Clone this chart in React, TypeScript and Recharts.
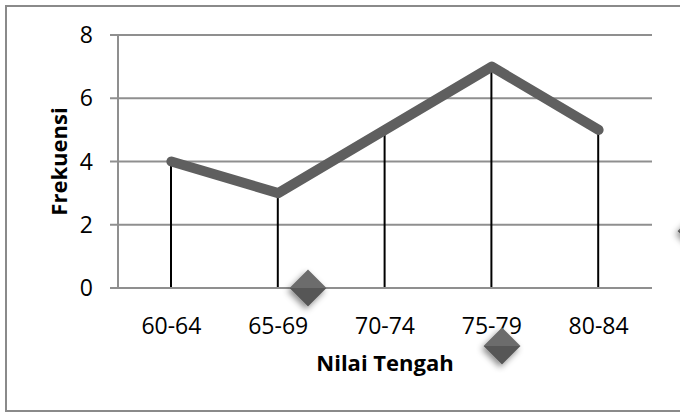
import React from 'react';
import { ComposedChart, Line, Bar, XAxis, YAxis, CartesianGrid } from 'recharts';

const categories = ['60-64', '65-69', '70-74', '75-79', '80-84'];
const frekuensi = [4, 3, 5, 7, 5];
const yTicks = [0, 2, 4, 6, 8];

const data = categories.map((nilai, i) => ({ nilai, frekuensi: frekuensi[i] }));

const FONT = '"Open Sans", "DejaVu Sans", sans-serif';
const GRID = '#8f8f8f';

// stray diamond shapes that sit on top of the picture (not data)
const Diamond: React.FC<{ cx: number; cy: number }> = ({ cx, cy }) => {
  const r = 18.5;
  return (
    <g filter="url(#dshadow)">
      <polygon points={`${cx - r},${cy} ${cx},${cy - r} ${cx + r},${cy}`} fill="#6c6c6c" />
      <polygon points={`${cx - r},${cy} ${cx + r},${cy} ${cx},${cy + r}`} fill="#565656" />
    </g>
  );
};

export default function App() {
  return (
    <div style={{ position: 'absolute', left: 0, top: 0, width: 680, height: 412, background: '#fff', overflow: 'hidden', fontFamily: FONT }}>
      <div style={{ position: 'absolute', left: 5, top: 5, width: 700, height: 403, border: '2px solid #8a8a8a' }} />
      <ComposedChart
        width={680}
        height={412}
        data={data}
        margin={{ top: 35, right: 28, left: 0, bottom: 0 }}
        style={{ position: 'absolute', left: 0, top: 0 }}
      >
        <CartesianGrid vertical={false} stroke={GRID} strokeWidth={2} />
        <XAxis
          dataKey="nilai"
          height={124}
          tickLine={false}
          axisLine={{ stroke: GRID, strokeWidth: 2 }}
          tickMargin={24}
          tick={{ fill: '#000', fontSize: 23, fontFamily: FONT }}
          label={{
            content: (props: any) => {
              const vb = props.viewBox;
              return (
                <text x={vb.x + vb.width / 2} y={vb.y + 83} textAnchor="middle" fontSize={22} fontWeight={700} fontFamily={FONT} fill="#000">
                  Nilai Tengah
                </text>
              );
            },
          }}
        />
        <YAxis
          width={118}
          domain={[0, 8]}
          ticks={yTicks}
          interval={0}
          tickSize={8}
          tickMargin={17}
          tickLine={{ stroke: GRID, strokeWidth: 2 }}
          axisLine={{ stroke: GRID, strokeWidth: 2 }}
          tick={{ fill: '#000', fontSize: 23, fontFamily: FONT }}
          label={{
            content: (props: any) => {
              const vb = props.viewBox;
              const cy = vb.y + vb.height / 2;
              return (
                <text x={67} y={cy} transform={`rotate(-90 67 ${cy})`} textAnchor="middle" fontSize={22} fontWeight={700} fontFamily={FONT} fill="#000">
                  Frekuensi
                </text>
              );
            },
          }}
        />
        <Line
          type="linear"
          dataKey="frekuensi"
          stroke="#5f5f5f"
          strokeWidth={10}
          strokeLinecap="round"
          strokeLinejoin="round"
          dot={false}
          activeDot={false}
          isAnimationActive={false}
        />
        <Bar dataKey="frekuensi" barSize={2} fill="#000" isAnimationActive={false} />
      </ComposedChart>
      <svg width={680} height={412} style={{ position: 'absolute', left: 0, top: 0, pointerEvents: 'none' }}>
        <defs>
          <filter id="dshadow" x="-50%" y="-50%" width="200%" height="200%">
            <feDropShadow dx={-2} dy={3} stdDeviation={3} floodColor="#000" floodOpacity={0.45} />
          </filter>
        </defs>
        <Diamond cx={308} cy={288} />
        <Diamond cx={502} cy={346} />
        <Diamond cx={696} cy={231} />
      </svg>
    </div>
  );
}
